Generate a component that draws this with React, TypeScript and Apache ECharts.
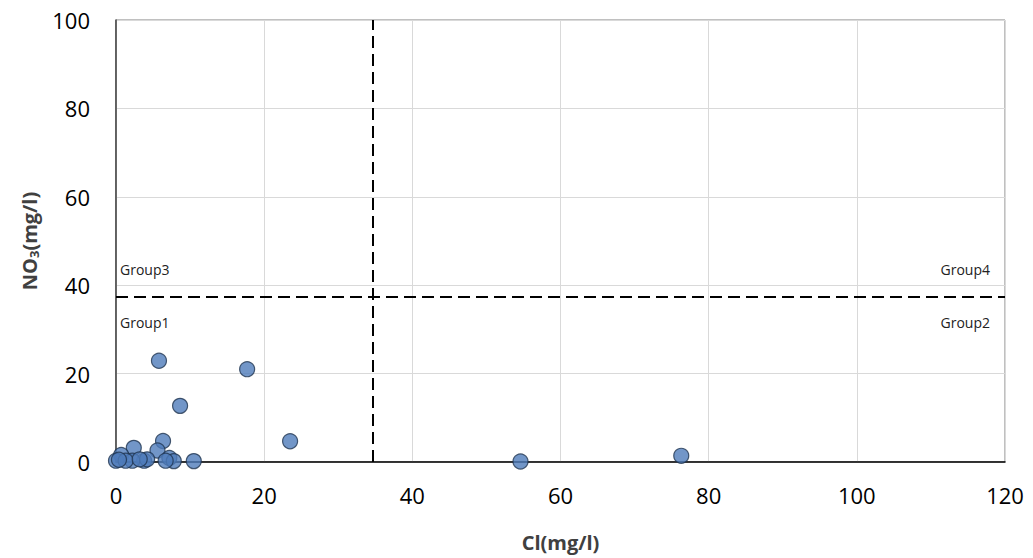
import React, { useEffect, useRef } from "react";
import * as echarts from "echarts";

const clValues = [5.8, 17.7, 8.65, 23.5, 6.35, 2.4, 5.6, 0.7, 7.2, 10.5, 3.8, 0.0, 2.2, 7.8, 6.7, 1.3, 4.2, 54.6, 76.3, 0.4, 3.2];
const no3Values = [22.9, 21.0, 12.7, 4.7, 4.75, 3.2, 2.6, 1.6, 0.9, 0.2, 0.3, 0.3, 0.3, 0.2, 0.3, 0.3, 0.6, 0.1, 1.4, 0.5, 0.6];
const clThreshold = 34.7;
const no3Threshold = 37.3;
const xTicks = [0, 20, 40, 60, 80, 100, 120];
const yTicks = [0, 20, 40, 60, 80, 100];
const groupLabels = ["Group3", "Group1", "Group4", "Group2"];

export default function App() {
  const ref = useRef<HTMLDivElement>(null);
  useEffect(() => {
    if (!ref.current) return;
    const chart = echarts.init(ref.current, null, { renderer: "svg" });
    const font = "'Open Sans', 'Liberation Sans', sans-serif";
    chart.setOption({
      animation: false,
      grid: { left: 116, right: 28, top: 20, bottom: 96, show: true, borderColor: "#808080", borderWidth: 1 },
      xAxis: {
        type: "value",
        min: xTicks[0],
        max: xTicks[xTicks.length - 1],
        interval: 20,
        name: "Cl(mg/l)",
        nameLocation: "middle",
        nameGap: 70,
        nameTextStyle: { fontSize: 20, fontWeight: "bold", color: "#404040", fontFamily: font },
        axisLine: { lineStyle: { color: "#000", width: 1.5 } },
        axisTick: { show: false },
        axisLabel: { fontSize: 22, color: "#000", margin: 22, fontFamily: font },
        splitLine: { lineStyle: { color: "#d9d9d9" } },
      },
      yAxis: {
        type: "value",
        min: yTicks[0],
        max: yTicks[yTicks.length - 1],
        interval: 20,
        name: "{a|NO}{s|3}{a|(mg/l)}",
        nameLocation: "middle",
        nameGap: 76,
        nameTextStyle: {
          rich: {
            a: { fontSize: 20, fontWeight: "bold", color: "#404040", fontFamily: font },
            s: { fontSize: 13, fontWeight: "bold", color: "#404040", fontFamily: font, verticalAlign: "bottom", padding: [8, 0, 0, 0] },
          },
        },
        axisLine: { show: true, lineStyle: { color: "#404040", width: 1.5 } },
        axisTick: { show: false },
        axisLabel: { fontSize: 22, color: "#000", margin: 26, fontFamily: font },
        splitLine: { lineStyle: { color: "#d9d9d9" } },
      },
      graphic: [
        { type: "text", left: 120, top: 262, style: { text: groupLabels[0], fontSize: 14, fill: "#222", fontFamily: font } },
        { type: "text", left: 120, top: 315, style: { text: groupLabels[1], fontSize: 14, fill: "#222", fontFamily: font } },
        { type: "text", right: 43, top: 262, style: { text: groupLabels[2], fontSize: 14, fill: "#222", fontFamily: font } },
        { type: "text", right: 43, top: 315, style: { text: groupLabels[3], fontSize: 14, fill: "#222", fontFamily: font } },
      ],
      series: [
        {
          type: "scatter",
          data: clValues.map((c, i) => [c, no3Values[i]]),
          symbolSize: 15,
          itemStyle: { color: "#4f7cba", borderColor: "#1f3550", borderWidth: 1.2 },
          z: 5,
          markLine: {
            silent: true,
            symbol: "none",
            label: { show: false },
            lineStyle: { color: "#000", type: [12, 6], width: 2 },
            data: [{ xAxis: clThreshold }, { yAxis: no3Threshold }],
          },
        },
      ],
    });
    return () => chart.dispose();
  }, []);
  return <div ref={ref} style={{ width: 1033, height: 558, position: "absolute", left: 0, top: 0 }} />;
}
